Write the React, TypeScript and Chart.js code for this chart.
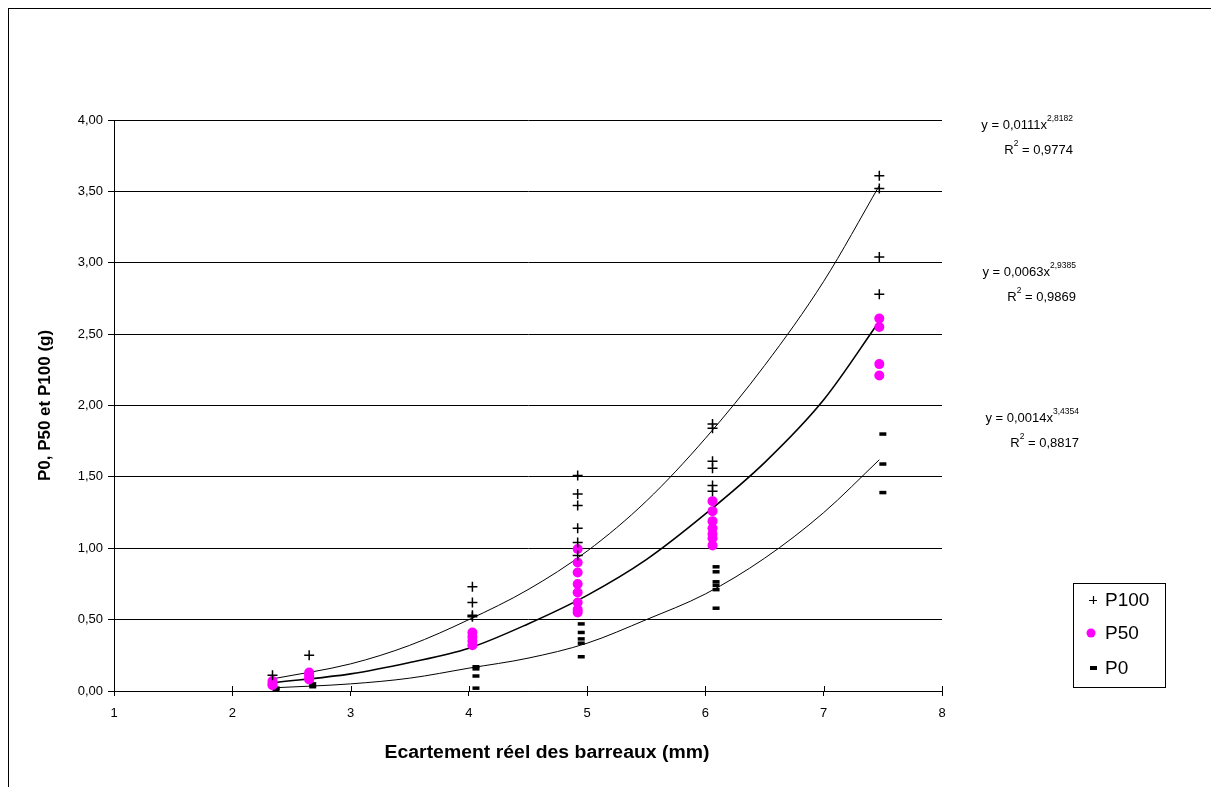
import React, { useEffect, useRef } from 'react';
import { Chart, registerables } from 'chart.js';

Chart.register(...registerables);

// ---- data ----
const p100X = [2.34, 2.65, 4.03, 4.03, 4.03, 4.03, 4.92, 4.92, 4.92, 4.92, 4.92, 4.92, 6.06, 6.06, 6.06, 6.06, 6.06, 6.06, 7.47, 7.47, 7.47, 7.47];
const p100Y = [0.11, 0.25, 0.73, 0.62, 0.53, 0.52, 1.51, 1.38, 1.3, 1.14, 1.04, 0.95, 1.87, 1.84, 1.61, 1.56, 1.44, 1.4, 3.61, 3.52, 3.04, 2.78];

const p50X = [2.34, 2.34, 2.34, 2.65, 2.65, 2.65, 2.65, 4.03, 4.03, 4.03, 4.03, 4.92, 4.92, 4.92, 4.92, 4.92, 4.92, 4.92, 4.92, 6.06, 6.06, 6.06, 6.06, 6.06, 6.06, 6.06, 7.47, 7.47, 7.47, 7.47];
const p50Y = [0.07, 0.05, 0.04, 0.13, 0.11, 0.09, 0.08, 0.41, 0.38, 0.35, 0.32, 0.995, 0.9, 0.83, 0.75, 0.69, 0.62, 0.57, 0.55, 1.33, 1.26, 1.19, 1.14, 1.1, 1.07, 1.02, 2.61, 2.55, 2.29, 2.21];

const p0X = [2.37, 2.37, 2.68, 2.68, 4.06, 4.06, 4.06, 4.06, 4.95, 4.95, 4.95, 4.95, 4.95, 6.09, 6.09, 6.09, 6.09, 6.09, 6.09, 7.5, 7.5, 7.5];
const p0Y = [0.02, 0.01, 0.05, 0.03, 0.17, 0.155, 0.105, 0.02, 0.47, 0.41, 0.365, 0.335, 0.24, 0.87, 0.835, 0.765, 0.74, 0.71, 0.58, 1.8, 1.59, 1.39];

// trend curves, values at these x positions
const trendX = [2.34, 3, 3.5, 4, 4.5, 5, 5.5, 6, 6.5, 7, 7.47];
const trend100Y = [0.085, 0.19, 0.32, 0.5, 0.71, 0.98, 1.33, 1.77, 2.28, 2.87, 3.54];
const trend50Y = [0.058, 0.12, 0.2, 0.3, 0.47, 0.67, 0.92, 1.24, 1.6, 2.04, 2.59];
const trend0Y = [0.022, 0.05, 0.09, 0.16, 0.23, 0.335, 0.5, 0.68, 0.93, 1.25, 1.62];

const seriesLabels = ['P100', 'P50', 'P0'];
const eqCoef = ['0,0111', '0,0063', '0,0014'];
const eqExp = ['2,8182', '2,9385', '3,4354'];
const eqR2 = ['0,9774', '0,9869', '0,8817'];

const xTitle = 'Ecartement réel des barreaux (mm)';
const yTitle = 'P0, P50 et P100 (g)';

const FONT = "'Liberation Sans', Arial, Helvetica, sans-serif";

const zip = (xs: number[], ys: number[]) => xs.map((x, i) => ({ x, y: ys[i] }));

const extrasPlugin = {
  id: 'extras',
  afterDraw(chart: any) {
    const { ctx, chartArea } = chart;
    const xs = chart.scales.x;
    ctx.save();
    // upward half of the crossing x ticks
    ctx.strokeStyle = '#000';
    ctx.lineWidth = 1;
    xs.ticks.forEach((t: any) => {
      const px = Math.round(xs.getPixelForValue(t.value)) + 0.5;
      ctx.beginPath();
      ctx.moveTo(px, chartArea.bottom - 5);
      ctx.lineTo(px, chartArea.bottom);
      ctx.stroke();
    });

    // x axis title (slightly wide lettering, as in the reference)
    ctx.fillStyle = '#000';
    ctx.font = `bold 17px ${FONT}`;
    ctx.textBaseline = 'middle';
    ctx.textAlign = 'center';
    ctx.save();
    const tw = ctx.measureText(xTitle).width;
    const sxScale = 325 / tw;
    ctx.translate(538, 744);
    ctx.scale(sxScale, 1.06);
    ctx.fillText(xTitle, 0, 0);
    ctx.restore();

    // trendline equations
    const rights = [1064, 1067, 1070];
    const tops = [116, 263, 409];
    ctx.textBaseline = 'middle';
    ctx.textAlign = 'left';
    const mainFont = `13px ${FONT}`;
    const supFont = `8.5px ${FONT}`;
    for (let i = 0; i < 3; i++) {
      const y1 = tops[i];
      const main = `y = ${eqCoef[i]}x`;
      ctx.font = mainFont;
      const wm = ctx.measureText(main).width;
      ctx.font = supFont;
      const ws = ctx.measureText(eqExp[i]).width;
      let sx = rights[i] - wm - ws;
      ctx.font = mainFont;
      ctx.fillText(main, sx, y1);
      ctx.font = supFont;
      ctx.fillText(eqExp[i], sx + wm, y1 - 6);

      const y2 = y1 + 25;
      const rest = ` = ${eqR2[i]}`;
      ctx.font = mainFont;
      const wR = ctx.measureText('R').width;
      const wRest = ctx.measureText(rest).width;
      ctx.font = supFont;
      const w2 = ctx.measureText('2').width;
      sx = rights[i] - wR - w2 - wRest;
      ctx.font = mainFont;
      ctx.fillText('R', sx, y2);
      ctx.font = supFont;
      ctx.fillText('2', sx + wR, y2 - 6);
      ctx.font = mainFont;
      ctx.fillText(rest, sx + wR + w2, y2);
    }

    // legend box
    const bx = 1064.5, by = 574.5, bw = 92, bh = 104;
    ctx.strokeStyle = '#000';
    ctx.lineWidth = 1;
    ctx.strokeRect(bx, by, bw, bh);
    const rows = [591, 624, 659];
    ctx.font = `19px ${FONT}`;
    seriesLabels.forEach((lab, i) => {
      const cy = rows[i];
      const mx = 1084;
      if (i === 0) {
        ctx.beginPath();
        ctx.lineWidth = 1.2;
        ctx.moveTo(mx - 4, cy + 0.5);
        ctx.lineTo(mx + 4, cy + 0.5);
        ctx.moveTo(mx + 0.5, cy - 4);
        ctx.lineTo(mx + 0.5, cy + 4);
        ctx.stroke();
      } else if (i === 1) {
        ctx.beginPath();
        ctx.fillStyle = '#FF00FF';
        ctx.arc(mx - 2, cy, 4.5, 0, Math.PI * 2);
        ctx.fill();
      } else {
        ctx.fillStyle = '#000';
        ctx.fillRect(mx - 3, cy - 2, 7, 4);
      }
      ctx.fillStyle = '#000';
      ctx.fillText(lab, 1096, cy + 1);
    });
    ctx.restore();
  },
};

export default function App() {
  const ref = useRef<HTMLCanvasElement | null>(null);

  useEffect(() => {
    if (!ref.current) return;
    Chart.defaults.font.family = FONT;
    Chart.defaults.color = '#000';
    const trendBase = {
      showLine: true,
      pointRadius: 0,
      borderColor: '#000',
      borderWidth: 1,
      tension: 0.4,
      cubicInterpolationMode: 'monotone',
    };
    const chart = new Chart(ref.current, {
      type: 'scatter',
      data: {
        datasets: [
          {
            label: seriesLabels[0],
            data: zip(p100X, p100Y),
            pointStyle: 'cross',
            pointRadius: 5,
            pointBorderWidth: 1.5,
            borderColor: '#000',
            backgroundColor: '#000',
          },
          {
            label: seriesLabels[1],
            data: zip(p50X, p50Y),
            pointStyle: 'circle',
            pointRadius: 5,
            pointBorderWidth: 0,
            borderColor: '#FF00FF',
            backgroundColor: '#FF00FF',
          },
          {
            label: seriesLabels[2],
            data: zip(p0X, p0Y),
            pointStyle: 'line',
            pointRadius: 3.5,
            pointBorderWidth: 3.5,
            borderColor: '#000',
            backgroundColor: '#000',
          },
          { ...trendBase, label: 'trend P100', data: zip(trendX, trend100Y) },
          { ...trendBase, label: 'trend P50', data: zip(trendX, trend50Y), borderWidth: 1.6 },
          { ...trendBase, label: 'trend P0', data: zip(trendX, trend0Y) },
        ],
      } as any,
      options: {
        animation: false,
        responsive: false,
        layout: { padding: { left: 22, right: 269, top: 111, bottom: 18 } },
        plugins: { legend: { display: false }, tooltip: { enabled: false } },
        scales: {
          x: {
            type: 'linear',
            min: 1,
            max: 8,
            ticks: { stepSize: 1, padding: 10, font: { size: 13 }, color: '#000' },
            grid: { drawOnChartArea: false, drawTicks: true, tickLength: 5, color: '#000' },
            border: { display: true, color: '#000', width: 1 },
            title: { display: false, text: xTitle },
            afterFit: (s: any) => { s.height = 78; },
          },
          y: {
            type: 'linear',
            min: 0,
            max: 4,
            ticks: {
              stepSize: 0.5,
              padding: 5,
              font: { size: 13 },
              color: '#000',
              callback: (v: any) => Number(v).toFixed(2).replace('.', ','),
            },
            grid: { color: '#000', lineWidth: 1, drawTicks: true, tickLength: 6 },
            border: { display: true, color: '#000', width: 1 },
            title: { display: true, text: yTitle, font: { size: 17, weight: 'bold' }, color: '#000', padding: { top: 4, bottom: 4 } },
            afterFit: (s: any) => { s.width = 83; },
          },
        },
      } as any,
      plugins: [extrasPlugin],
    });
    return () => chart.destroy();
  }, []);

  return (
    <div
      style={{
        position: 'fixed',
        left: 8,
        top: 8,
        width: 1203,
        height: 779,
        borderLeft: '1px solid #000',
        borderTop: '1px solid #000',
        boxSizing: 'border-box',
        background: '#fff',
        overflow: 'hidden',
      }}
    >
      <canvas ref={ref} width={1202} height={778} style={{ display: 'block' }} />
    </div>
  );
}
